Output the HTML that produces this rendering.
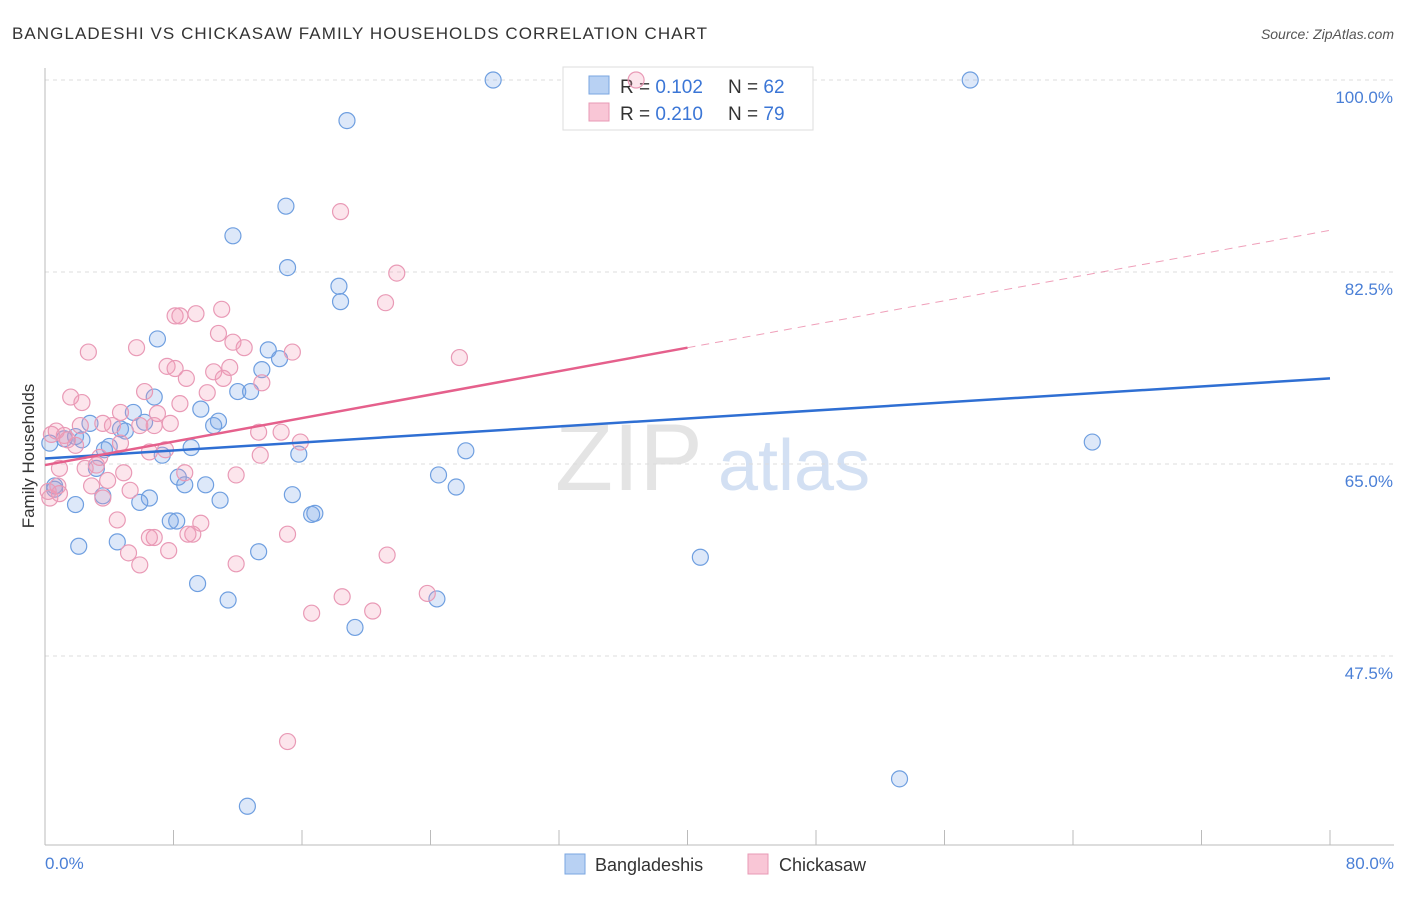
<!DOCTYPE html>
<html><head><meta charset="utf-8"><style>
body{margin:0;background:#fff;font-family:"Liberation Sans",sans-serif}
svg text{font-family:"Liberation Sans",sans-serif}
</style></head><body>
<svg width="1406" height="892" viewBox="0 0 1406 892">
<text x="12" y="39" font-size="17" fill="#333" textLength="695" lengthAdjust="spacing">BANGLADESHI VS CHICKASAW FAMILY HOUSEHOLDS CORRELATION CHART</text>
<text x="1394" y="39" font-size="14" fill="#555" font-style="italic" text-anchor="end">Source: ZipAtlas.com</text>
<text x="555" y="490" font-size="95" fill="#e4e4e4" font-family="Liberation Serif">ZIP</text>
<text x="718" y="490" font-size="72" fill="#d3e0f3">atlas</text>
<g id="grid"></g>
<line x1="45" y1="68" x2="45" y2="845" stroke="#bbb"/>
<line x1="45" y1="845" x2="1394" y2="845" stroke="#bbb"/>
<g id="xticks"></g>
<text x="45" y="869" font-size="17" fill="#4a7fd6">0.0%</text>
<text x="1394" y="869" font-size="17" fill="#4a7fd6" text-anchor="end">80.0%</text>
<text x="34" y="456" font-size="17" fill="#333" text-anchor="middle" transform="rotate(-90 34 456)">Family Households</text>
<g>
<rect x="563" y="67" width="250" height="63" fill="#fff" stroke="#ddd"/>
<rect x="589" y="76" width="20" height="18" fill="#b8d1f3" stroke="#7aa6e0"/>
<rect x="589" y="103" width="20" height="18" fill="#f9c6d6" stroke="#e89ab5"/>
<text x="620" y="93" font-size="19" fill="#333">R = <tspan fill="#3b76d6">0.102</tspan></text>
<text x="728" y="93" font-size="19" fill="#333">N = <tspan fill="#3b76d6">62</tspan></text>
<text x="620" y="120" font-size="19" fill="#333">R = <tspan fill="#3b76d6">0.210</tspan></text>
<text x="728" y="120" font-size="19" fill="#333">N = <tspan fill="#3b76d6">79</tspan></text>
</g>
<g id="pts"></g>
<g id="lines"></g>
<g><rect x="565" y="854" width="20" height="20" fill="#b8d1f3" stroke="#7aa6e0"/><text x="595" y="871" font-size="18" fill="#333">Bangladeshis</text></g>
<g><rect x="748" y="854" width="20" height="20" fill="#f9c6d6" stroke="#e89ab5"/><text x="779" y="871" font-size="18" fill="#333">Chickasaw</text></g>
</svg>
<script>
const yTicks=[100,82.5,65,47.5];
const blueX=[27.9,57.6,18.8,15,11.7,15.1,18.3,18.4,7,13.9,14.6,13.5,12,12.8,6.8,5.5,9.7,10.8,10.5,6.2,2.8,4.7,5,1.2,1.9,3.7,7.3,9.1,15.8,26.2,65.2,3.2,8.3,8.7,10,24.5,25.6,0.6,15.4,6.5,3.6,5.9,10.9,1.9,7.8,8.2,16.6,16.8,4.5,2.1,13.3,40.8,9.5,11.4,24.4,19.3,53.2,12.6,0.3,0.6,4,2.3];
const blueY=[100,100,96.3,88.5,85.8,82.9,81.2,79.8,76.4,75.4,74.6,73.6,71.6,71.6,71.1,69.7,70,68.9,68.5,68.8,68.7,68.2,68,67.3,67.5,66.3,65.8,66.5,65.9,66.2,67,64.6,63.8,63.1,63.1,64,62.9,63,62.2,61.9,62.1,61.5,61.7,61.3,59.8,59.8,60.4,60.5,57.9,57.5,57,56.5,54.1,52.6,52.7,50.1,36.3,33.8,66.9,62.7,66.6,67.2];
const pinkX=[36.8,18.4,21.9,21.2,11,9.4,8.1,8.4,2.7,5.7,10.8,11.7,12.4,15.4,25.8,7.6,8.1,11.5,10.5,8.8,13.5,11.1,6.2,10.1,1.6,2.3,8.4,4.7,7,6.8,3.6,4.2,2.2,1.2,0.7,13.3,14.7,1.9,4.7,6.5,15.9,7.5,13.4,3.2,2.5,8.7,11.9,3.9,2.9,0.8,0.3,0.9,5.3,3.6,4.5,9.7,9.2,8.9,6.8,6.5,15.1,7.7,5.2,21.3,5.9,11.9,18.5,23.8,20.4,16.6,15.1,0.4,0.2,1.4,7.8,3.4,5.9,4.9,0.9];
const pinkY=[100,88,82.4,79.7,79.1,78.7,78.5,78.5,75.2,75.6,76.9,76.1,75.6,75.2,74.7,73.9,73.7,73.8,73.4,72.8,72.4,72.8,71.6,71.5,71.1,70.6,70.5,69.7,69.6,68.5,68.7,68.5,68.5,67.6,68,67.9,67.9,66.7,66.9,66.1,67,66.3,65.8,64.9,64.6,64.2,64,63.5,63,63,61.9,62.3,62.6,61.9,59.9,59.6,58.6,58.6,58.3,58.3,58.6,57.1,56.9,56.7,55.8,55.9,52.9,53.2,51.6,51.4,39.7,67.7,62.5,67.2,68.7,65.6,68.5,64.2,64.6];
const blueLine=[65.5,72.8], pinkLine=[64.9,75.6,86.3];
const ns='http://www.w3.org/2000/svg';
const X=v=>45+v/80*1285, Y=v=>80+(100-v)*10.971;
function mk(tag,at,parent){const e=document.createElementNS(ns,tag);for(const k in at)e.setAttribute(k,at[k]);document.getElementById(parent).appendChild(e);return e;}
yTicks.forEach(t=>{
 const l=mk('line',{x1:45,x2:1394,y1:Y(t),y2:Y(t),stroke:'#ddd','stroke-dasharray':'4,4'},'grid');
 
 
 const tx=mk('text',{x:1393,y:Y(t)+23,'font-size':17,fill:'#4a7fd6','text-anchor':'end'},'grid');
 tx.textContent=t.toFixed(1)+'%';
 
 
});
for(let i=1;i<=10;i++){
 const l=mk('line',{x1:X(i*8),x2:X(i*8),y1:830,y2:845,stroke:'#bbb'},'xticks');
 
 
}
blueX.forEach((v,i)=>{
 const c=mk('circle',{cx:X(v),cy:Y(blueY[i]),r:8,fill:'rgba(120,165,230,0.25)',stroke:'#6f9fe0','stroke-width':1.2},'pts');
 
 
});
pinkX.forEach((v,i)=>{
 const c=mk('circle',{cx:X(v),cy:Y(pinkY[i]),r:8,fill:'rgba(245,150,180,0.25)',stroke:'#e99ab6','stroke-width':1.2},'pts');
 
 
});
const b=mk('line',{x1:X(0),y1:Y(blueLine[0]),x2:X(80),y2:Y(blueLine[1]),stroke:'#2f6fd3','stroke-width':2.5},'lines');


const p=mk('line',{x1:X(0),y1:Y(pinkLine[0]),x2:X(40),y2:Y(pinkLine[1]),stroke:'#e5608c','stroke-width':2.5},'lines');


const pd=mk('line',{x1:X(40),y1:Y(pinkLine[1]),x2:X(80),y2:Y(pinkLine[2]),stroke:'#e5608c','stroke-width':1,'stroke-dasharray':'8,6',opacity:0.6},'lines');


</script>
</body></html>
